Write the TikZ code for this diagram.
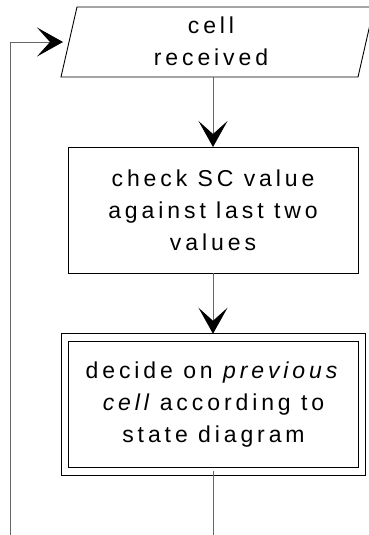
\documentclass[tikz,border=0pt]{standalone}
\usepackage{fontspec}
\setmainfont[LetterSpace=17]{Liberation Sans}
\usetikzlibrary{arrows.meta}
\tikzset{
  txt/.style={align=center, font=\fontsize{23}{32}\selectfont},
  box/.style={draw=black, line width=0.9pt, fill=white, inner sep=0pt, outer sep=0pt, txt},
  outline/.style={draw=black, line width=0.9pt, line join=miter},
  conn/.style={draw=black!60, line width=0.9pt},
  arr/.style={-{Stealth[length=26pt,width=29pt,inset=13pt,color=black]}}
}
\begin{document}
\begin{tikzpicture}[x=1pt,y=-1pt]
\useasboundingbox (0,0) rectangle (369,535);
% parallelogram
\draw[outline] (61,77) -- (358,77) -- (374,7) -- (77,7) -- cycle;
\node[txt, inner sep=0pt] (p) at (211,41) {cell\\received};
\coordinate (pbot) at (213,77);
\coordinate (pleft) at (69,42);
% process box
\node[box, minimum width=290pt, minimum height=126pt] (b2) at (213,210) {check SC value\\against last two\\values};
% double box
\node[box, double=white, double distance=6.8pt, minimum width=297pt, minimum height=133.5pt] (b3) at (213.5,404.5)
  {decide on \textit{previous}\\\textit{cell}\kern-4pt{} according to\\state diagram};
\coordinate (l1) at (10,535);
\coordinate (e) at (213,535);
\draw[conn, arr] (pbot) -- (pbot |- b2.north);
\draw[conn, arr, shorten >=4pt] (b2.south) -- (b2.south |- b3.north);
\draw[conn] (b3.south -| e) -- (e);
\draw[conn, arr, shorten >=6pt] (l1) |- (pleft);
\end{tikzpicture}
\end{document}
